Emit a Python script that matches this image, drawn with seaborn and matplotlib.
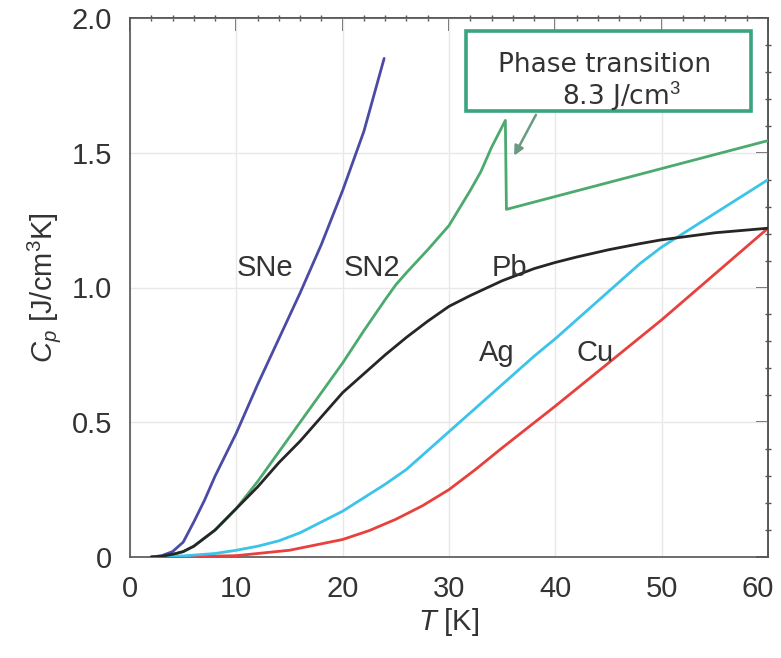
import numpy as np
import pandas as pd
import matplotlib
matplotlib.use("Agg")
import matplotlib.pyplot as plt
import matplotlib.transforms as mtransforms
import seaborn as sns
from matplotlib.ticker import MultipleLocator, FixedLocator
from matplotlib.patches import Rectangle

# ---- data ----
sne_T = [2, 3, 4, 5, 5.6, 6, 7, 8, 9, 10, 12, 14, 16, 18, 20, 22, 23.9]
sne_Cp = [0, 0.005, 0.02, 0.055, 0.1, 0.13, 0.21, 0.30, 0.38, 0.46, 0.64, 0.81, 0.98, 1.16, 1.36, 1.58, 1.85]

sn2_T = [3, 4, 5, 6, 7, 8, 9, 10, 12, 14, 16, 18, 20, 22, 24, 25, 26, 28, 30, 32, 33, 34, 35.3, 35.4, 60]
sn2_Cp = [0, 0.008, 0.02, 0.04, 0.07, 0.1, 0.14, 0.18, 0.28, 0.39, 0.5, 0.61, 0.72, 0.84, 0.955,
          1.01, 1.055, 1.14, 1.23, 1.36, 1.43, 1.52, 1.62, 1.29, 1.545]

pb_T = [2, 3, 4, 5, 6, 7, 8, 9, 10, 12, 14, 16, 18, 20, 22, 24, 26, 28, 30, 32, 35, 38, 40, 42,
        45, 48, 50, 55, 60]
pb_Cp = [0, 0.003, 0.01, 0.02, 0.04, 0.07, 0.1, 0.14, 0.18, 0.26, 0.35, 0.43, 0.52, 0.61, 0.68,
         0.75, 0.815, 0.875, 0.93, 0.97, 1.025, 1.07, 1.093, 1.113, 1.14, 1.163, 1.177, 1.203, 1.22]

ag_T = [2, 5, 8, 10, 12, 14, 16, 18, 20, 22, 24, 26, 28, 30, 32, 34, 36, 38, 40, 42, 44, 46, 48,
        50, 52, 54, 56, 58, 60]
ag_Cp = [0, 0.004, 0.013, 0.025, 0.04, 0.06, 0.09, 0.13, 0.17, 0.22, 0.27, 0.325, 0.395, 0.465, 0.535,
         0.605, 0.675, 0.745, 0.81, 0.88, 0.95, 1.02, 1.09, 1.15, 1.20, 1.25, 1.30, 1.35, 1.40]

cu_T = [2, 5, 10, 15, 20, 22.5, 25, 27.5, 30, 32.5, 35, 40, 45, 50, 55, 60]
cu_Cp = [0, 0.001, 0.005, 0.025, 0.065, 0.098, 0.14, 0.19, 0.25, 0.325, 0.405, 0.56, 0.72, 0.88, 1.05, 1.22]

materials = ["SNe", "SN2", "Pb", "Ag", "Cu"]
colors = {"SNe": "#4b4ba6", "SN2": "#4caa6e", "Pb": "#262626", "Ag": "#3cc3ea", "Cu": "#e8403c"}

label_pos = {"SNe": (12.7, 1.072), "SN2": (22.8, 1.072), "Pb": (35.7, 1.072),
             "Ag": (34.5, 0.757), "Cu": (43.7, 0.757)}

x_ticks = [0, 10, 20, 30, 40, 50, 60]
y_ticks = [0, 0.5, 1.0, 1.5, 2.0]
y_ticklabels = ["0", "0.5", "1.0", "1.5", "2.0"]

frames = []
for name, T, C in [("SN2", sn2_T, sn2_Cp), ("SNe", sne_T, sne_Cp), ("Cu", cu_T, cu_Cp),
                   ("Ag", ag_T, ag_Cp), ("Pb", pb_T, pb_Cp)]:
    frames.append(pd.DataFrame({"T": T, "Cp": C, "material": name}))
df = pd.concat(frames, ignore_index=True)

# ---- style ----
sns.set_style("white")
plt.rcParams["font.family"] = ["Liberation Sans", "DejaVu Sans"]
plt.rcParams["mathtext.fontset"] = "custom"
plt.rcParams["mathtext.rm"] = "Liberation Sans"
plt.rcParams["mathtext.it"] = "Liberation Sans:italic"

fig = plt.figure(figsize=(7.81, 6.58), dpi=100)
ax = fig.add_axes([130 / 781, 1 - 557 / 658, 638 / 781, 539 / 658])

for name in ["SN2", "SNe", "Cu", "Ag", "Pb"]:
    sub = df[df["material"] == name]
    sns.lineplot(data=sub, x="T", y="Cp", color=colors[name], lw=2.0, sort=False,
                 estimator=None, ax=ax, legend=False, zorder=3)

ax.set_xlim(0, 60)
ax.set_ylim(0, 2.0)
ax.xaxis.set_major_locator(FixedLocator(x_ticks))
ax.yaxis.set_major_locator(FixedLocator(y_ticks))
ax.set_yticklabels(y_ticklabels)
ax.xaxis.set_minor_locator(MultipleLocator(2))
ax.yaxis.set_minor_locator(MultipleLocator(0.1))
ax.tick_params(which="major", direction="out", length=9, width=1.2, labelsize=21,
               color="#444444", labelcolor="#333333", pad=4)
ax.tick_params(which="minor", direction="inout", length=5, width=1.0, color="#555555")
ax.grid(True, which="major", color="#e8e8e8", lw=1.0, zorder=0)
for s in ax.spines.values():
    s.set_color("#555555")
    s.set_linewidth(1.2)

# shift the last x tick label left so it stays inside the figure
fig.canvas.draw()
last = ax.get_xticklabels()[-1]
last.set_transform(last.get_transform() + mtransforms.ScaledTranslation(-10 / 100, 0, fig.dpi_scale_trans))

secx = ax.secondary_xaxis("top")
secx.xaxis.set_major_locator(FixedLocator(x_ticks))
secx.xaxis.set_minor_locator(MultipleLocator(2))
secx.tick_params(which="major", direction="in", length=9, width=1.2, labeltop=False, color="#444444")
secx.tick_params(which="minor", direction="inout", length=5, width=1.0, color="#555555")
secy = ax.secondary_yaxis("right")
secy.yaxis.set_major_locator(FixedLocator(y_ticks))
secy.yaxis.set_minor_locator(MultipleLocator(0.1))
secy.tick_params(which="major", direction="in", length=9, width=1.2, labelright=False, color="#444444")
secy.tick_params(which="minor", direction="inout", length=5, width=1.0, color="#555555")
for sa in (secx, secy):
    for s in sa.spines.values():
        s.set_color("#555555")
        s.set_linewidth(1.2)

ax.set_xlabel("$T$ [K]", fontsize=21, color="#333333", labelpad=2)
ax.set_ylabel("$C_p$ [J/cm$^3$K]", fontsize=21, color="#333333", labelpad=6)

for name in materials:
    x, y = label_pos[name]
    ax.text(x, y, name, fontsize=21, color="#333333", ha="center", va="center", zorder=4)

# annotation box
ax.annotate("", xy=(36.0, 1.48), xytext=(38.3, 1.65),
            arrowprops=dict(arrowstyle="-|>", color="#6b9a82", lw=1.8, mutation_scale=14),
            zorder=5)
ax.text(0.7443, 0.912, "Phase transition", transform=ax.transAxes, fontsize=19,
        family="DejaVu Sans", color="#333333", ha="center", va="center", zorder=6)
ax.text(0.7710, 0.853, "8.3 J/cm$^3$", transform=ax.transAxes, fontsize=19,
        family="DejaVu Sans", color="#333333", ha="center", va="center", zorder=6)
ax.add_patch(Rectangle((336 / 638, 446 / 539), 285 / 638, 80 / 539, transform=ax.transAxes,
                       facecolor="white", edgecolor="#3aa37f", lw=2.6, zorder=5))

fig.savefig("out.png", dpi=100)
